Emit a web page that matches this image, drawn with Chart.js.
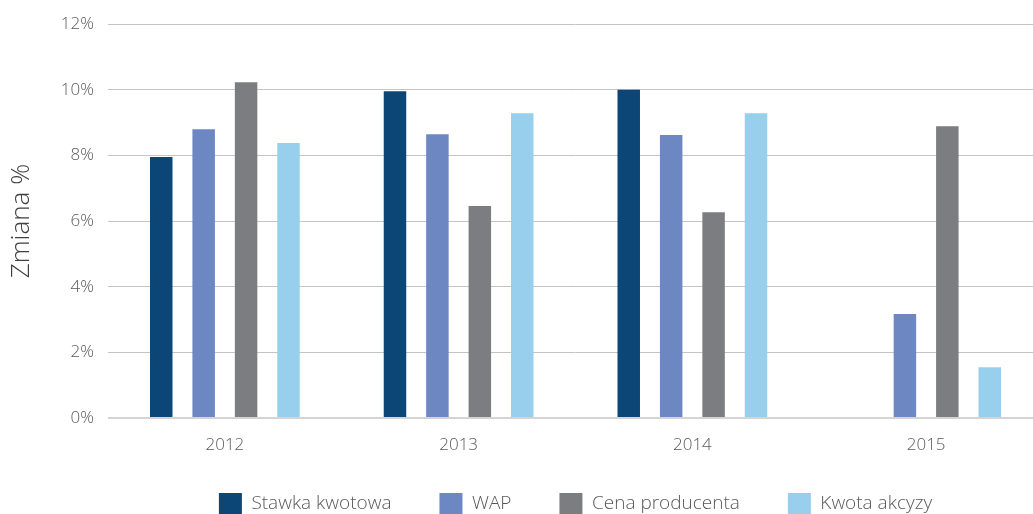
<!DOCTYPE html>
<html lang="pl">
<head>
<meta charset="utf-8">
<title>Zmiana %</title>
<script src="https://cdn.jsdelivr.net/npm/chart.js@4.4.1/dist/chart.umd.min.js"></script>
<style>
    html, body { margin: 0; padding: 0; background: #fff; overflow: hidden; }
    #wrap { width: 1043px; height: 514px; position: relative; }
</style>
</head>
<body>
<div id="wrap"><canvas id="zmianaChart"></canvas></div>
<script>
// dane do wykresu
const years = ['2012', '2013', '2014', '2015'];
const stawkaKwotowa = [7.95, 9.96, 10.0, null];
const wap = [8.8, 8.65, 8.62, 3.17];
const cenaProducenta = [10.23, 6.46, 6.27, 8.89];
const kwotaAkcyzy = [8.38, 9.29, 9.29, 1.55];
const yTicks = [0, 2, 4, 6, 8, 10, 12];

const textColor = '#595959';
const baseFont = { family: "'Open Sans', sans-serif", size: 17, weight: 300 };

// legend height is trimmed so the row padding only spaces the items sideways
const legendHeightFix = {
    id: 'legendHeightFix',
    beforeLayout(chart) {
        const lg = chart.legend;
        if (lg && !lg._fixed) {
            const fit = lg.fit;
            lg.fit = function () {
                fit.call(this);
                this.height = 69;
            };
            lg._fixed = true;
        }
    }
};

const ctx = document.getElementById('zmianaChart').getContext('2d');
new Chart(ctx, {
    type: 'bar',
    data: {
        labels: years,
        datasets: [
            { label: 'Stawka kwotowa', data: stawkaKwotowa, backgroundColor: '#0c4677' },
            { label: 'WAP', data: wap, backgroundColor: '#6c87c1' },
            { label: 'Cena producenta', data: cenaProducenta, backgroundColor: '#7c7d80' },
            { label: 'Kwota akcyzy', data: kwotaAkcyzy, backgroundColor: '#97cfec' }
        ]
    },
    options: {
        responsive: true,
        maintainAspectRatio: false,
        animation: false,
        categoryPercentage: 0.726,
        barPercentage: 0.53,
        layout: { padding: { top: 24, left: 6, right: 0, bottom: 0 } },
        plugins: {
            tooltip: { enabled: false },
            legend: {
                position: 'bottom',
                fullSize: false,
                labels: {
                    boxWidth: 23,
                    boxHeight: 21,
                    padding: 48,
                    color: textColor,
                    font: { family: baseFont.family, size: 19, weight: 300 }
                }
            }
        },
        scales: {
            x: {
                grid: { display: false },
                border: { display: false },
                ticks: { color: textColor, font: baseFont, padding: 9 },
                afterFit(scale) {
                    scale.height = 27;
                    // let the year labels run past the short axis box
                    scale._computeLabelArea = () => undefined;
                }
            },
            y: {
                min: 0,
                max: 12,
                afterBuildTicks(scale) {
                    scale.ticks = yTicks.map(v => ({ value: v }));
                },
                afterFit(scale) { scale.width = 102; },
                border: { display: false },
                grid: {
                    drawTicks: false,
                    color: c => c.tick && c.tick.value === 0 ? '#d4d4d4' : '#c4c4c4',
                    lineWidth: c => c.tick && c.tick.value === 0 ? 2 : 1
                },
                ticks: {
                    color: textColor,
                    font: baseFont,
                    padding: 14,
                    callback: v => v + '%'
                },
                title: {
                    display: true,
                    text: 'Zmiana %',
                    color: '#404040',
                    font: { family: baseFont.family, size: 26, weight: 300 },
                    padding: { top: 0, bottom: 0 }
                }
            }
        }
    },
    plugins: [legendHeightFix]
});
</script>
</body>
</html>
